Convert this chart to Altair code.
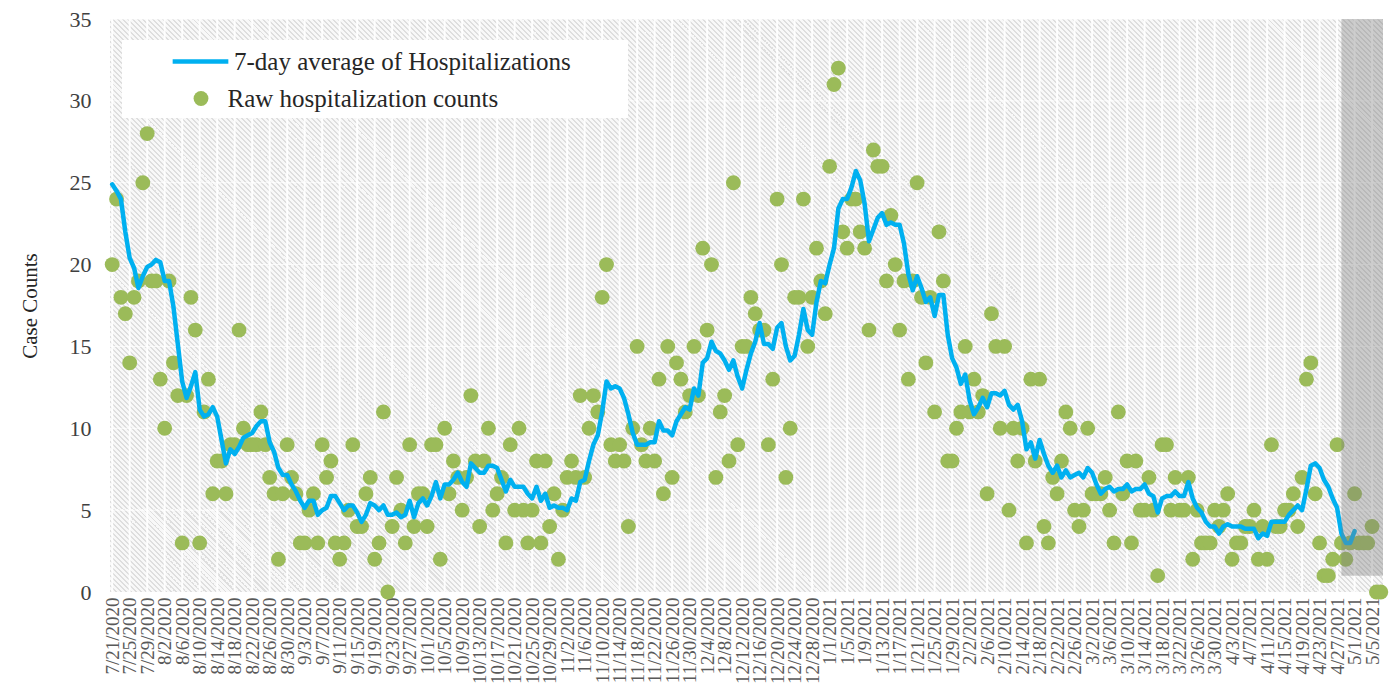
import altair as alt
import pandas as pd

# ---------------- data ----------------
start_date = "2020-07-21"
raw_counts = [
    20, 24, 18, 17, 14, 18, 19, 25, 28, 19, 19, 13, 10, 19, 14, 12, 3, 12, 18, 16,
    3, 11, 13, 6, 8, 8, 6, 9, 9, 16, 10, 9, 9, 9, 11, 9, 7,
    6, 2, 6, 9, 7, 6, 3, 3, 5, 6, 3, 9, 7, 8, 3, 2, 3, 5, 9, 4, 4, 6, 7, 2, 3, 11, 0,
    4, 7, 5, 3, 9, 4, 6,
    6, 4, 9, 9, 2, 10, 6, 8, 7, 5, 7, 12, 8, 4, 8, 10, 5, 6, 7, 3, 9, 5, 10, 5, 3, 5,
    8, 3, 8, 4, 6, 2, 5, 7, 8, 7, 12,
    7, 10, 12, 11, 18, 20, 9, 8, 9, 8, 4, 10, 15, 9, 8, 10, 8, 13, 6, 15, 7, 14, 13,
    11, 12, 15, 12, 21, 16, 20, 7, 11, 12, 8, 25, 9, 15, 15,
    18, 17, 16, 16, 9, 13, 24, 20, 7, 10, 18, 18, 24, 15, 18, 21, 19, 17, 26, 31, 32,
    22, 21, 24, 24, 22, 21, 16, 27, 26, 26, 19, 23, 20, 16, 19, 13,
    19, 25, 18, 14, 18, 11, 22, 19, 8, 8, 10, 11, 15, 11, 13, 11, 12, 6, 17, 15, 10,
    15, 5, 10, 8, 10, 3, 13, 8, 13, 4, 3, 7, 6, 8, 11,
    10, 5, 4, 5, 10, 6, 6, 6, 7, 5, 3, 11, 6, 8, 3, 8, 5, 5, 7, 5, 1, 9, 9, 5, 7, 5,
    5, 7, 2, 5, 3, 3, 3, 5, 4, 5, 6,
    2, 3, 3, 4, 4, 5, 2, 4, 2, 9, 4, 4, 5, 5, 6, 4, 7, 13, 14, 6, 3, 1, 1, 2, 9, 3,
    2, 3, 6, 3, 3, 3, 4, 0, 0,
]
# 7-day average as drawn for the first six days (earlier data not shown)
avg_first_days = [24.9, 24.5, 24.0, 22.0, 20.4, 19.8]
line_end = "2021-05-01"
shade_start = ["2021-04-28"]
shade_end = ["2021-05-07T12:00:00Z"]
shade_low = [1]
shade_high = [35]
y_ticks = [0, 5, 10, 15, 20, 25, 30, 35]
line_name = "7-day average of Hospitalizations"
raw_name = "Raw hospitalization counts"

# ---------------- tables ----------------
dates = pd.date_range(start_date, periods=len(raw_counts), freq="D")
avg_read = avg_first_days + [None] * (len(raw_counts) - len(avg_first_days))
df = pd.DataFrame({
    "date": dates.strftime("%Y-%m-%d"),
    "count": raw_counts,
    "avg_read": pd.Series(avg_read, dtype="float"),
})
tick_dates = dates[::4]
tick_df = pd.DataFrame({"date": tick_dates.strftime("%Y-%m-%d")})
hgrid_df = pd.DataFrame({"v": y_ticks[1:]})
shade_df = pd.DataFrame({"start": shade_start, "end": shade_end,
                         "lo": shade_low, "hi": shade_high})
one_row = pd.DataFrame({"k": [0]})

# ---------------- styling ----------------
W, H = 1273, 573
FONT = "Liberation Serif"
BLUE = "#00B0F0"
GREEN = "#9BBB59"

x_domain = [alt.DateTime(year=2020, month=7, date=20, hours=12, utc=True),
            alt.DateTime(year=2021, month=5, date=7, hours=12, utc=True)]
x_scale = alt.Scale(type="utc", domain=x_domain)
y_scale = alt.Scale(domain=[0, 35], nice=False, zero=True)

tick_values = [alt.DateTime(year=int(d.year), month=int(d.month), date=int(d.day), utc=True)
               for d in tick_dates]

x_axis = alt.Axis(values=tick_values,
                  labelExpr="utcFormat(datum.value, '%-m/%-d/%Y')",
                  labelAngle=-90, labelFont=FONT, labelFontSize=19,
                  labelColor="#595959", labelPadding=5, labelOverlap=False,
                  labelFlush=False, title=None, grid=False, ticks=False, domain=False)
y_axis = alt.Axis(values=y_ticks, labelFont=FONT, labelFontSize=22,
                  labelColor="#404040", labelPadding=19, grid=False, ticks=False,
                  domain=False, title="Case Counts", titleFont=FONT, titleFontSize=21,
                  titleFontWeight="normal", titleColor="#262626", titleX=-80,
                  titleY=H / 2, titleAngle=-90, titleAlign="center",
                  titleBaseline="middle")

# diagonal hatch for the plot background (linear gradient with hard stops)
k = (W + H) / (W * W + H * H)
grad_x2 = W * k
grad_y2 = 1 - H * k
period = 5.0
span = W + H
stops = []
n = int(span / period) + 1
for i in range(n):
    a = min(1.0, i * period / span)
    b = min(1.0, (i + 0.4) * period / span)
    c = min(1.0, (i + 1) * period / span)
    stops += [
        alt.GradientStop(offset=a, color="#dedede"),
        alt.GradientStop(offset=b, color="#dedede"),
        alt.GradientStop(offset=b, color="#f8f8f8"),
        alt.GradientStop(offset=c, color="#f8f8f8"),
    ]
hatch = alt.LinearGradient(gradient="linear", stops=stops,
                           x1=0, y1=1, x2=grad_x2, y2=grad_y2)

background = alt.Chart(one_row).mark_rect(fill=hatch, stroke=None).encode(
    x=alt.value(0), x2=alt.value("width"), y=alt.value(0), y2=alt.value("height"))

vgrid = alt.Chart(tick_df).mark_rule(color="white", strokeWidth=2, opacity=0.9).encode(
    x=alt.X("date:T", scale=x_scale, axis=x_axis))
hgrid = alt.Chart(hgrid_df).mark_rule(color="white", strokeWidth=1, opacity=0.8).encode(
    y=alt.Y("v:Q", scale=y_scale, axis=y_axis))

legend_box = alt.Chart(one_row).mark_rect(fill="white", stroke=None).encode(
    x=alt.value(12), x2=alt.value(518), y=alt.value(21), y2=alt.value(99))

base = alt.Chart(df)

points = base.transform_calculate(s=f"'{raw_name}'").mark_circle(
    size=220, opacity=1).encode(
    x=alt.X("date:T", scale=x_scale, axis=x_axis),
    y=alt.Y("count:Q", scale=y_scale, axis=y_axis),
    fill=alt.Fill("s:N", scale=alt.Scale(domain=[raw_name], range=[GREEN]),
                  legend=alt.Legend(title=None, orient="none", legendX=78.5,
                                    legendY=67, symbolType="circle",
                                    symbolSize=220, symbolStrokeWidth=0,
                                    labelFont=FONT, labelFontSize=25,
                                    labelColor="#262626", labelOffset=14,
                                    padding=0, labelLimit=600)),
)

line = base.transform_window(
    roll="mean(count)", frame=[-6, 0], sort=[alt.SortField("date")]
).transform_calculate(
    avg7="isValid(datum.avg_read) ? datum.avg_read : datum.roll",
    s=f"'{line_name}'",
).transform_filter(
    f"time(datum.date) <= time(toDate('{line_end}'))"
).mark_line(strokeWidth=4.5, strokeJoin="round", strokeCap="round").encode(
    x=alt.X("date:T", scale=x_scale, axis=x_axis),
    y=alt.Y("avg7:Q", scale=y_scale, axis=y_axis),
    stroke=alt.Stroke("s:N", scale=alt.Scale(domain=[line_name], range=[BLUE]),
                      legend=alt.Legend(title=None, orient="none", legendX=60,
                                        legendY=12, symbolType="stroke",
                                        symbolSize=3100, symbolStrokeWidth=4.5,
                                        labelFont=FONT, labelFontSize=25,
                                        labelColor="#262626", labelOffset=3,
                                        padding=0, labelLimit=600)),
)

shade = alt.Chart(shade_df).mark_rect(color="#7f7f7f", opacity=0.38).encode(
    x=alt.X("start:T", scale=x_scale, axis=x_axis),
    x2="end:T",
    y=alt.Y("lo:Q", scale=y_scale, axis=y_axis),
    y2="hi:Q",
)

chart = alt.layer(
    background, vgrid, hgrid, legend_box, points, line, shade
).resolve_scale(fill="independent", stroke="independent").properties(
    width=W, height=H,
    padding={"left": 102, "top": 11, "right": 7, "bottom": 92},
    autosize=alt.AutoSizeParams(type="none"),
    background="white",
).configure_view(stroke=None)

chart.save("out.html", embed_options={"renderer": "svg", "actions": False})
